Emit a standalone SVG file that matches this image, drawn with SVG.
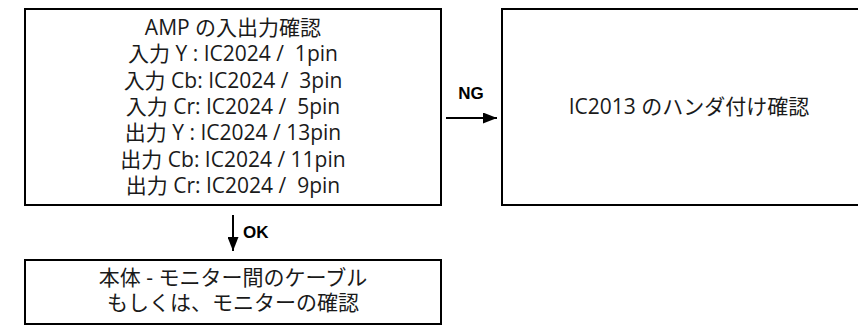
<svg xmlns="http://www.w3.org/2000/svg" width="858" height="331" viewBox="0 0 858 331">
  <style>
    .box { fill: #ffffff; stroke: #000000; stroke-width: 2; }
    .t { font-family: "Open Sans", "Noto Sans CJK JP", sans-serif; font-size: 21px; fill: #1a1a1a; text-anchor: middle; }
    .lbl { font-family: "Liberation Sans", Arial, sans-serif; font-size: 17px; font-weight: bold; fill: #000000; }
    .conn { stroke: #000000; stroke-width: 2; fill: none; }
  </style>
  <defs>
    <marker id="arrow" viewBox="0 0 14 11" refX="14" refY="5.5" markerWidth="14" markerHeight="11" markerUnits="userSpaceOnUse" orient="auto">
      <path d="M0,0 L14,5.5 L0,11 Z" fill="#000000"/>
    </marker>
  </defs>
  <rect width="858" height="331" fill="#ffffff"/>

  <g id="node-amp">
    <rect class="box" x="25" y="9" width="416" height="196"/>
    <text class="t" x="233" y="35" xml:space="preserve">AMP の入出力確認</text>
    <text class="t" x="233" y="61.3" xml:space="preserve">入力 Y : IC2024 /  1pin</text>
    <text class="t" x="233" y="87.7" xml:space="preserve">入力 Cb: IC2024 /  3pin</text>
    <text class="t" x="233" y="114" xml:space="preserve">入力 Cr: IC2024 /  5pin</text>
    <text class="t" x="233" y="140.3" xml:space="preserve">出力 Y : IC2024 / 13pin</text>
    <text class="t" x="233" y="166.7" xml:space="preserve">出力 Cb: IC2024 / 11pin</text>
    <text class="t" x="233" y="193" xml:space="preserve">出力 Cr: IC2024 /  9pin</text>
  </g>

  <g id="node-ic2013">
    <rect class="box" x="502" y="9" width="374" height="196"/>
    <text class="t" x="689" y="114">IC2013 のハンダ付け確認</text>
  </g>

  <g id="node-cable">
    <rect class="box" x="25" y="260" width="416" height="64"/>
    <text class="t" x="233" y="284.5" xml:space="preserve">本体 - モニター間のケーブル</text>
    <text class="t" x="233" y="310">もしくは、モニターの確認</text>
  </g>

  <g id="connectors">
    <line class="conn" x1="446" y1="118" x2="497" y2="118" marker-end="url(#arrow)"/>
    <text class="lbl" x="471" y="99" text-anchor="middle">NG</text>
    <line class="conn" x1="233" y1="215" x2="233" y2="251" marker-end="url(#arrow)"/>
    <text class="lbl" x="243" y="238">OK</text>
  </g>
</svg>
